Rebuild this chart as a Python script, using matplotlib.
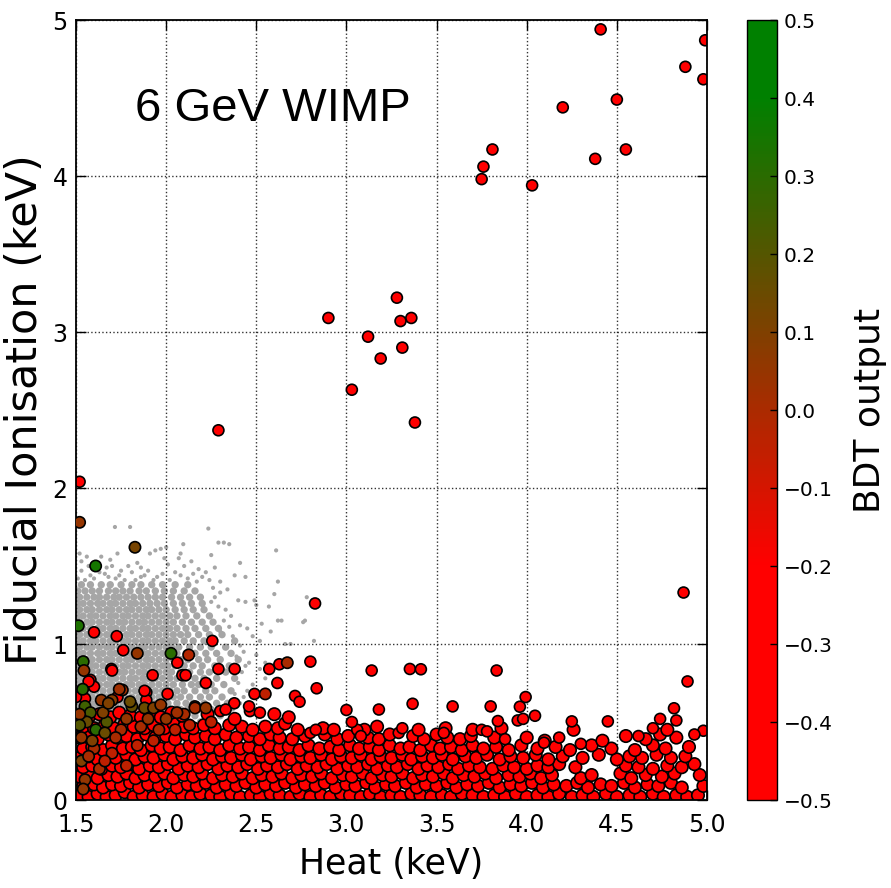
import matplotlib
matplotlib.use("Agg")
import matplotlib.pyplot as plt
from matplotlib.colors import LinearSegmentedColormap, Normalize

# ---------------- data ----------------
# isolated background events (heat keV, ionisation keV), BDT strongly background-like
outlier_heat = [4.41, 4.99, 4.88, 4.98, 4.50, 4.20, 3.81, 4.55, 4.38, 3.76, 3.75, 4.03,
                3.28, 2.90, 3.36, 3.30, 3.12, 3.31, 3.19, 3.03, 3.38, 2.29, 1.52, 4.87]
outlier_ion = [4.94, 4.87, 4.70, 4.62, 4.49, 4.44, 4.17, 4.17, 4.11, 4.06, 3.98, 3.94,
               3.22, 3.09, 3.09, 3.07, 2.97, 2.90, 2.83, 2.63, 2.42, 2.37, 2.04, 1.33]

# red events above the dense band
upper_red = [
    (1.60, 1.075), (1.726, 1.05), (2.256, 1.02), (1.762, 0.96), (1.696, 0.84), (1.925, 0.80),
    (2.062, 0.88), (2.09, 0.80), (2.108, 0.80), (2.29, 0.84), (2.38, 0.84), (2.572, 0.84),
    (2.628, 0.87), (2.80, 0.887), (2.22, 0.75), (2.617, 0.75), (2.835, 0.716), (2.715, 0.667),
    (2.74, 0.63), (2.378, 0.62), (3.00, 0.577), (3.18, 0.58), (1.58, 0.77), (1.60, 0.726),
    (1.89, 0.69), (2.008, 0.68), (1.89, 0.64), (1.57, 0.76), (1.70, 0.83), (1.55, 0.65),
    (1.50, 0.66), (1.73, 0.66), (1.88, 0.70), (2.16, 0.60), (2.30, 0.57), (2.33, 0.58),
    (2.465, 0.57), (2.52, 0.56), (2.46, 0.60), (2.49, 0.68), (2.826, 1.26), (3.14, 0.83),
    (3.352, 0.84), (3.413, 0.838), (3.833, 0.83), (4.892, 0.76), (3.367, 0.617), (3.589, 0.60),
    (3.80, 0.60), (3.962, 0.598), (3.994, 0.66), (4.046, 0.54), (3.95, 0.51), (3.98, 0.52),
    (4.25, 0.504), (4.45, 0.504), (4.817, 0.588), (4.83, 0.51), (4.74, 0.52), (4.70, 0.46),
    (4.98, 0.444), (4.93, 0.42), (3.54, 0.43), (3.75, 0.45), (3.78, 0.44), (3.84, 0.506),
    (4.18, 0.40), (4.096, 0.367), (2.80, 0.43), (2.83, 0.45), (3.06, 0.45), (3.03, 0.50),
    (3.08, 0.41), (3.29, 0.43), (3.31, 0.46), (3.88, 0.39), (4.30, 0.36), (4.62, 0.41),
]

# dense band of background events (heat, ionisation)
band = [
    # row ~0.03
    (1.52, .03), (1.57, .02), (1.62, .04), (1.67, .02), (1.72, .03), (1.77, .05), (1.82, .02), (1.87, .03),
    (1.93, .02), (1.98, .04), (2.03, .02), (2.09, .03), (2.14, .02), (2.19, .04), (2.25, .03), (2.30, .02),
    (2.36, .04), (2.41, .02), (2.47, .03), (2.52, .02), (2.58, .04), (2.63, .03), (2.69, .02), (2.74, .04),
    (2.80, .02), (2.86, .03), (2.91, .02), (2.97, .04), (3.02, .03), (3.08, .02), (3.13, .04), (3.19, .02),
    (3.25, .03), (3.30, .02), (3.36, .04), (3.41, .03), (3.47, .02), (3.53, .03), (3.58, .02), (3.64, .04),
    (3.70, .03), (3.76, .02), (3.82, .03), (3.88, .02), (3.94, .04), (4.00, .02), (4.06, .03), (4.12, .02),
    (4.18, .04), (4.25, .02), (4.31, .03), (4.37, .02), (4.44, .04), (4.50, .02), (4.57, .03), (4.63, .02),
    (4.70, .04), (4.76, .02), (4.83, .03), (4.89, .02), (4.95, .03),
    # row ~0.09
    (1.54, .09), (1.60, .10), (1.65, .08), (1.70, .10), (1.75, .09), (1.80, .11), (1.85, .08), (1.90, .10),
    (1.96, .09), (2.01, .11), (2.06, .08), (2.12, .10), (2.17, .09), (2.22, .11), (2.28, .08), (2.33, .10),
    (2.39, .09), (2.44, .11), (2.50, .08), (2.55, .10), (2.61, .09), (2.66, .11), (2.72, .08), (2.77, .10),
    (2.83, .09), (2.88, .11), (2.94, .08), (3.00, .10), (3.05, .09), (3.11, .11), (3.16, .08), (3.22, .10),
    (3.27, .09), (3.33, .11), (3.39, .08), (3.44, .10), (3.50, .09), (3.56, .11), (3.61, .08), (3.67, .10),
    (3.73, .09), (3.79, .11), (3.85, .08), (3.91, .10), (3.97, .09), (4.03, .11), (4.09, .08), (4.15, .10),
    (4.22, .09), (4.28, .11), (4.34, .08), (4.41, .10), (4.47, .09), (4.54, .11), (4.60, .08), (4.67, .10),
    (4.73, .09), (4.80, .11), (4.86, .08), (4.98, .09),
    # row ~0.15
    (1.52, .15), (1.57, .16), (1.62, .14), (1.68, .16), (1.73, .15), (1.78, .17), (1.83, .14), (1.88, .16),
    (1.94, .15), (1.99, .17), (2.04, .14), (2.10, .16), (2.15, .15), (2.20, .17), (2.26, .14), (2.31, .16),
    (2.37, .15), (2.42, .17), (2.48, .14), (2.53, .16), (2.59, .15), (2.64, .17), (2.70, .14), (2.75, .16),
    (2.81, .15), (2.86, .17), (2.92, .14), (2.98, .16), (3.03, .15), (3.09, .17), (3.14, .14), (3.20, .16),
    (3.25, .15), (3.31, .17), (3.37, .14), (3.42, .16), (3.48, .15), (3.54, .17), (3.59, .14), (3.65, .16),
    (3.71, .15), (3.77, .17), (3.83, .14), (3.90, .16), (3.96, .15), (4.02, .17), (4.08, .14), (4.14, .16),
    (4.30, .14), (4.36, .16), (4.52, .17), (4.58, .14), (4.66, .16), (4.75, .15), (4.82, .17), (4.96, .16),
    # row ~0.21
    (1.54, .21), (1.59, .22), (1.64, .20), (1.70, .22), (1.75, .21), (1.80, .23), (1.85, .20), (1.91, .22),
    (1.96, .21), (2.01, .23), (2.07, .20), (2.12, .22), (2.18, .21), (2.23, .23), (2.29, .20), (2.34, .22),
    (2.40, .21), (2.45, .23), (2.51, .20), (2.56, .22), (2.62, .21), (2.67, .23), (2.73, .20), (2.78, .22),
    (2.84, .21), (2.89, .23), (2.95, .20), (3.01, .22), (3.06, .21), (3.12, .23), (3.17, .20), (3.23, .22),
    (3.28, .21), (3.34, .23), (3.40, .20), (3.45, .22), (3.51, .21), (3.57, .23), (3.62, .20), (3.68, .22),
    (3.74, .21), (3.81, .20), (3.87, .22), (3.93, .21), (4.00, .20), (4.06, .22), (4.12, .21), (4.18, .23),
    (4.27, .21), (4.55, .22), (4.62, .21), (4.70, .20), (4.78, .22), (4.86, .21), (4.93, .23),
    # row ~0.27
    (1.52, .27), (1.57, .28), (1.62, .26), (1.67, .28), (1.72, .27), (1.78, .29), (1.83, .26), (1.88, .28),
    (1.93, .27), (1.99, .29), (2.04, .26), (2.09, .28), (2.15, .27), (2.20, .29), (2.26, .26), (2.31, .28),
    (2.36, .27), (2.42, .29), (2.47, .26), (2.53, .28), (2.58, .27), (2.64, .29), (2.69, .26), (2.75, .28),
    (2.80, .27), (2.86, .29), (2.92, .26), (2.97, .28), (3.03, .27), (3.08, .29), (3.14, .26), (3.19, .28),
    (3.25, .27), (3.31, .29), (3.36, .26), (3.42, .28), (3.48, .27), (3.53, .29), (3.59, .26), (3.66, .28),
    (3.72, .27), (3.78, .29), (3.85, .26), (3.91, .28), (3.98, .27), (4.05, .29), (4.12, .26), (4.20, .28),
    (4.31, .27), (4.40, .29), (4.50, .26), (4.57, .28), (4.64, .27), (4.72, .29), (4.80, .27), (4.88, .28),
    # row ~0.33
    (1.54, .33), (1.59, .34), (1.65, .32), (1.70, .35), (1.76, .33), (1.81, .34), (1.86, .32), (1.92, .35),
    (1.97, .33), (2.02, .34), (2.08, .32), (2.13, .35), (2.19, .33), (2.24, .34), (2.30, .32), (2.35, .35),
    (2.41, .33), (2.46, .34), (2.52, .32), (2.57, .35), (2.63, .33), (2.68, .34), (2.74, .32), (2.79, .35),
    (2.85, .33), (2.91, .34), (2.96, .32), (3.02, .35), (3.07, .33), (3.13, .34), (3.18, .32), (3.24, .35),
    (3.30, .33), (3.35, .34), (3.41, .32), (3.47, .35), (3.52, .33), (3.58, .34), (3.64, .32), (3.70, .35),
    (3.76, .33), (3.83, .34), (3.90, .32), (3.97, .35), (4.06, .33), (4.16, .34), (4.24, .32), (4.36, .35),
    (4.47, .33), (4.60, .32), (4.70, .35), (4.77, .33), (4.90, .34),
    # row ~0.40
    (1.52, .40), (1.57, .41), (1.62, .39), (1.68, .42), (1.73, .40), (1.78, .41), (1.84, .39), (1.89, .42),
    (1.94, .40), (2.00, .41), (2.05, .39), (2.11, .42), (2.16, .40), (2.22, .41), (2.27, .39), (2.33, .42),
    (2.39, .40), (2.46, .41), (2.52, .39), (2.58, .42), (2.63, .40), (2.70, .39), (2.77, .41), (2.88, .42),
    (2.95, .39), (3.01, .41), (3.12, .40), (3.18, .39), (3.24, .42), (3.37, .41), (3.43, .39), (3.50, .42),
    (3.56, .40), (3.63, .39), (3.69, .41), (3.82, .40), (4.00, .40), (4.10, .38), (4.42, .38), (4.55, .41),
    (4.66, .39), (4.74, .42), (4.83, .40),
    # row ~0.47
    (1.54, .47), (1.60, .46), (1.66, .48), (1.71, .46), (1.77, .49), (1.82, .47), (1.88, .46), (1.93, .48),
    (1.99, .46), (2.04, .49), (2.10, .47), (2.15, .46), (2.21, .48), (2.27, .46), (2.35, .48), (2.42, .47),
    (2.48, .45), (2.55, .47), (2.62, .46), (2.66, .49), (2.73, .45), (2.87, .46), (2.93, .45), (3.10, .45),
    (3.17, .47), (3.40, .45), (3.55, .46), (3.70, .45), (3.86, .46), (4.26, .45), (4.78, .45),
    # row ~0.54
    (1.52, .54), (1.57, .53), (1.63, .55), (1.69, .53), (1.74, .56), (1.80, .54), (1.86, .53), (1.91, .55),
    (1.97, .53), (2.03, .56), (2.09, .54), (2.23, .55), (2.38, .52), (2.60, .55), (2.68, .53),
]
band_bdt = -0.4

# events with intermediate / signal-like BDT output (heat, ionisation, BDT)
mixed = [
    (1.52, 1.78, 0.05), (1.827, 1.62, 0.12), (1.609, 1.50, 0.35), (1.513, 1.117, 0.33),
    (1.84, 0.94, 0.05), (2.027, 0.94, 0.30), (2.125, 0.93, -0.02), (1.54, 0.887, 0.30),
    (1.544, 0.83, 0.05), (1.537, 0.71, 0.30), (1.757, 0.705, 0.02), (1.81, 0.60, 0.17),
    (1.55, 0.60, 0.25), (1.58, 0.56, 0.22), (1.64, 0.64, 0.05), (1.70, 0.64, 0.08),
    (1.74, 0.71, 0.02), (1.80, 0.63, 0.15), (1.88, 0.59, 0.15), (1.93, 0.59, 0.10),
    (1.97, 0.61, 0.05), (2.10, 0.55, 0.00), (2.16, 0.59, 0.00), (2.22, 0.59, 0.05),
    (2.672, 0.88, 0.00), (2.55, 0.68, -0.05), (1.61, 0.45, 0.30), (1.67, 0.50, 0.20),
    (1.66, 0.43, 0.15), (1.53, 0.40, 0.05), (1.53, 0.25, 0.10), (1.55, 0.13, 0.05),
    (1.60, 0.33, 0.00), (1.75, 0.45, 0.00), (1.86, 0.47, 0.00), (1.93, 0.38, -0.05),
    (1.70, 0.30, -0.05), (1.63, 0.20, 0.00), (2.05, 0.45, -0.05), (2.00, 0.52, 0.05),
    (1.78, 0.52, 0.05), (1.56, 0.50, 0.15), (1.59, 0.38, 0.10), (1.72, 0.40, 0.00),
    (1.84, 0.35, -0.05), (1.52, 0.55, 0.05), (1.65, 0.56, 0.10), (1.90, 0.52, 0.05),
    (1.96, 0.45, 0.00), (2.06, 0.56, 0.02), (2.13, 0.48, -0.05), (2.25, 0.50, -0.05),
    (1.68, 0.62, 0.10), (1.52, 0.48, 0.20), (1.57, 0.28, 0.00), (1.66, 0.25, -0.05),
    (1.78, 0.22, -0.05), (1.54, 0.07, 0.05),
]

# simulated 6 GeV WIMP signal (grey cloud): dense rows (ionisation, heats)
gray_rows = [
    (0.50, [1.52, 1.56, 1.59, 1.63, 1.66, 1.70, 1.73, 1.77, 1.80, 1.84, 1.87, 1.91, 1.95, 1.98, 2.02, 2.07, 2.13, 2.19, 2.26]),
    (0.54, [1.50, 1.54, 1.57, 1.61, 1.64, 1.68, 1.72, 1.75, 1.79, 1.82, 1.86, 1.89, 1.93, 1.97, 2.00, 2.05, 2.10, 2.16, 2.23, 2.30]),
    (0.58, [1.52, 1.55, 1.59, 1.62, 1.66, 1.70, 1.73, 1.77, 1.81, 1.84, 1.88, 1.91, 1.95, 1.99, 2.03, 2.08, 2.12, 2.18, 2.25]),
    (0.62, [1.51, 1.54, 1.58, 1.61, 1.65, 1.68, 1.72, 1.76, 1.79, 1.83, 1.86, 1.90, 1.94, 1.97, 2.01, 2.06, 2.11, 2.15, 2.21, 2.28, 2.34]),
    (0.66, [1.52, 1.56, 1.59, 1.63, 1.67, 1.70, 1.74, 1.77, 1.81, 1.85, 1.88, 1.92, 1.96, 1.99, 2.04, 2.08, 2.13, 2.19, 2.24, 2.31]),
    (0.70, [1.51, 1.54, 1.58, 1.61, 1.65, 1.69, 1.72, 1.76, 1.79, 1.83, 1.87, 1.90, 1.94, 1.98, 2.02, 2.06, 2.10, 2.16, 2.22, 2.27, 2.36]),
    (0.74, [1.52, 1.56, 1.60, 1.63, 1.67, 1.70, 1.74, 1.78, 1.81, 1.85, 1.88, 1.92, 1.96, 2.00, 2.04, 2.09, 2.14, 2.18, 2.25, 2.32]),
    (0.78, [1.51, 1.54, 1.58, 1.62, 1.65, 1.69, 1.72, 1.76, 1.80, 1.83, 1.87, 1.90, 1.94, 1.98, 2.02, 2.06, 2.11, 2.16, 2.21, 2.28, 2.38]),
    (0.82, [1.52, 1.56, 1.59, 1.63, 1.67, 1.70, 1.74, 1.77, 1.81, 1.85, 1.88, 1.92, 1.96, 2.00, 2.03, 2.08, 2.13, 2.19, 2.24, 2.33]),
    (0.86, [1.51, 1.54, 1.58, 1.61, 1.65, 1.69, 1.72, 1.76, 1.79, 1.83, 1.87, 1.90, 1.94, 1.98, 2.01, 2.05, 2.10, 2.15, 2.20, 2.27, 2.35]),
    (0.90, [1.52, 1.56, 1.59, 1.63, 1.67, 1.70, 1.74, 1.78, 1.81, 1.85, 1.89, 1.92, 1.96, 2.00, 2.04, 2.08, 2.12, 2.18, 2.23, 2.30, 2.40]),
    (0.94, [1.51, 1.54, 1.58, 1.62, 1.65, 1.69, 1.72, 1.76, 1.80, 1.83, 1.87, 1.90, 1.94, 1.98, 2.02, 2.06, 2.11, 2.16, 2.22, 2.28, 2.36]),
    (0.98, [1.52, 1.56, 1.59, 1.63, 1.67, 1.70, 1.74, 1.77, 1.81, 1.85, 1.88, 1.92, 1.96, 2.00, 2.03, 2.07, 2.13, 2.19, 2.25, 2.33]),
    (1.02, [1.51, 1.54, 1.58, 1.61, 1.65, 1.69, 1.72, 1.76, 1.79, 1.83, 1.87, 1.90, 1.94, 1.98, 2.02, 2.05, 2.10, 2.15, 2.21, 2.27, 2.38]),
    (1.06, [1.52, 1.56, 1.59, 1.63, 1.67, 1.70, 1.74, 1.78, 1.81, 1.85, 1.89, 1.92, 1.96, 2.00, 2.04, 2.08, 2.12, 2.18, 2.24, 2.31]),
    (1.10, [1.51, 1.54, 1.58, 1.62, 1.65, 1.69, 1.72, 1.76, 1.80, 1.83, 1.87, 1.90, 1.94, 1.98, 2.02, 2.06, 2.11, 2.16, 2.22, 2.29]),
    (1.14, [1.52, 1.56, 1.59, 1.63, 1.67, 1.70, 1.74, 1.77, 1.81, 1.85, 1.88, 1.92, 1.96, 2.00, 2.04, 2.09, 2.14, 2.20, 2.26]),
    (1.18, [1.51, 1.54, 1.58, 1.61, 1.65, 1.69, 1.72, 1.76, 1.79, 1.83, 1.87, 1.90, 1.94, 1.98, 2.02, 2.06, 2.11, 2.17, 2.24]),
    (1.22, [1.52, 1.56, 1.59, 1.63, 1.67, 1.70, 1.74, 1.78, 1.81, 1.85, 1.89, 1.92, 1.96, 2.00, 2.05, 2.10, 2.15, 2.21]),
    (1.26, [1.51, 1.54, 1.58, 1.62, 1.65, 1.69, 1.72, 1.76, 1.80, 1.83, 1.87, 1.91, 1.95, 1.99, 2.04, 2.09, 2.14, 2.20]),
    (1.30, [1.52, 1.56, 1.60, 1.63, 1.67, 1.71, 1.74, 1.78, 1.82, 1.86, 1.90, 1.94, 1.98, 2.03, 2.08, 2.13, 2.19]),
    (1.34, [1.51, 1.55, 1.59, 1.63, 1.68, 1.72, 1.76, 1.80, 1.85, 1.89, 1.94, 1.99, 2.04, 2.10, 2.16]),
    (1.38, [1.53, 1.58, 1.64, 1.69, 1.75, 1.81, 1.86, 1.92, 1.98, 2.05, 2.12]),
]
# sparse signal events around the cloud (heat, ionisation)
gray_sparse = [
    (1.716, 1.75), (1.80, 1.75), (2.234, 1.74), (2.29, 1.65), (2.32, 1.65), (2.35, 1.64), (2.095, 1.64),
    (2.00, 1.62), (1.97, 1.61), (1.94, 1.60), (1.91, 1.58), (1.56, 1.56), (1.64, 1.56), (2.61, 1.60),
    (2.25, 1.57), (1.53, 1.53), (1.69, 1.54), (1.70, 1.50), (2.41, 1.52), (1.62, 1.52), (1.61, 1.48),
    (1.79, 1.50), (1.84, 1.52), (1.75, 1.47), (2.01, 1.51), (2.07, 1.55), (2.10, 1.50), (2.14, 1.53),
    (2.18, 1.48), (2.22, 1.46), (2.44, 1.43), (2.62, 1.40), (2.60, 1.32), (2.57, 1.24), (2.40, 1.28),
    (2.44, 1.27), (2.49, 1.28), (2.50, 1.25), (2.78, 1.30), (2.62, 1.15), (2.64, 1.15), (2.77, 1.15),
    (2.66, 1.00), (2.69, 1.00), (2.45, 1.10), (2.48, 1.05), (2.52, 1.02), (2.43, 0.95), (2.50, 0.93),
    (2.46, 0.88), (2.55, 0.88), (2.42, 0.82), (2.40, 0.75), (2.45, 0.70), (2.38, 0.68), (2.55, 0.78),
    (2.36, 1.18), (2.30, 1.40), (2.26, 1.36), (1.66, 1.45), (1.58, 1.44), (1.88, 1.44), (1.95, 1.43),
    (2.12, 1.42), (1.53, 1.47), (2.53, 1.13), (2.58, 1.08), (2.82, 1.02), (2.76, 1.14), (2.05, 1.46),
    (1.72, 1.42), (1.83, 1.41), (2.17, 1.40), (2.33, 1.22), (2.37, 1.05), (2.41, 0.99),
    (1.51, 1.42), (1.55, 1.41), (1.60, 1.42), (1.63, 1.46), (1.68, 1.43), (1.74, 1.44), (1.77, 1.41),
    (1.81, 1.46), (1.86, 1.43), (1.90, 1.47), (1.93, 1.41), (1.98, 1.45), (2.02, 1.41), (2.08, 1.44),
    (2.15, 1.45), (2.20, 1.43), (2.24, 1.41), (2.27, 1.30), (2.30, 1.33), (2.25, 1.27), (2.29, 1.24),
    (2.32, 1.15), (2.35, 1.11), (2.30, 1.08), (2.41, 1.12), (2.39, 0.92), (2.44, 0.86), (2.41, 0.62),
    (2.37, 0.58), (2.43, 0.66), (2.48, 0.74), (2.52, 0.84), (1.57, 1.50), (1.67, 1.49), (1.86, 1.49),
    (1.99, 1.55), (2.08, 1.58), (1.73, 1.58), (1.52, 1.58), (2.27, 1.49), (2.34, 1.35), (2.38, 1.44),
]

x_ticks = [1.5, 2.0, 2.5, 3.0, 3.5, 4.0, 4.5, 5.0]
y_ticks = [0, 1, 2, 3, 4, 5]
cbar_ticks = [-0.5, -0.4, -0.3, -0.2, -0.1, 0.0, 0.1, 0.2, 0.3, 0.4, 0.5]

# ---------------- plot ----------------
cmap = LinearSegmentedColormap.from_list(
    'bdt', [(0.0, '#ff0000'), (0.3, '#ff0000'), (0.9, '#008000'), (1.0, '#008000')])
norm = Normalize(vmin=-0.5, vmax=0.5)

fig = plt.figure(figsize=(8.91, 8.88), dpi=100)
ax = fig.add_axes([76 / 891, 88 / 888, 631 / 891, 780 / 888])
cax = fig.add_axes([747 / 891, 88 / 888, 30 / 891, 780 / 888])

gx, gy = [], []
for yv, xs in gray_rows:
    gx.extend(xs)
    gy.extend([yv] * len(xs))
ax.scatter(gx, gy, s=28, c='#a6a6a6', edgecolors='none', zorder=1)
ax.scatter([p[0] for p in gray_sparse], [p[1] for p in gray_sparse], s=9,
           c='#a6a6a6', edgecolors='none', zorder=1)

bandx = [p[0] for p in band]
bandy = [p[1] for p in band]
sc = ax.scatter(bandx, bandy, s=80, c=[band_bdt] * len(band), cmap=cmap, norm=norm,
                edgecolors='black', linewidths=1.2, zorder=2)

ux = [p[0] for p in upper_red] + outlier_heat
uy = [p[1] for p in upper_red] + outlier_ion
ax.scatter(ux, uy, s=62, c=[band_bdt] * len(ux), cmap=cmap, norm=norm,
           edgecolors='black', linewidths=1.2, zorder=2)
ax.scatter([p[0] for p in mixed], [p[1] for p in mixed], s=66, c=[p[2] for p in mixed],
           cmap=cmap, norm=norm, edgecolors='black', linewidths=1.2, zorder=3)

ax.set_xlim(1.5, 5.0)
ax.set_ylim(0, 5)
ax.set_xticks(x_ticks)
ax.set_xticklabels([f'{v:.1f}' for v in x_ticks])
ax.set_yticks(y_ticks)
ax.set_yticklabels([str(v) for v in y_ticks])
ax.set_axisbelow('line')
ax.grid(True, linestyle=':', color='black', linewidth=1.0, alpha=0.8)
ax.tick_params(direction='in', length=7, width=1, top=True, right=True, labelsize=17)
ax.tick_params(axis='x', pad=9)
ax.tick_params(axis='y', pad=6)
for sp in ax.spines.values():
    sp.set_linewidth(1.3)

ax.set_xlabel('Heat (keV)', fontsize=25)
ax.xaxis.set_label_coords(0.5, -0.06)
ax.set_ylabel('Fiducial Ionisation (keV)', fontsize=31)
ax.yaxis.set_label_coords(-0.048, 0.5)

ax.text(1.83, 4.35, '6 GeV WIMP', fontsize=34, family='Liberation Sans',
        va='baseline', ha='left', zorder=5)

cb = fig.colorbar(sc, cax=cax, ticks=cbar_ticks)
cb.outline.set_linewidth(1.0)
cax.tick_params(direction='in', length=5, width=1, labelsize=14.5, pad=5)
cb.set_label('BDT output', fontsize=26)
cax.yaxis.set_label_coords(3.55, 0.5)

fig.savefig('out.png', dpi=100)
